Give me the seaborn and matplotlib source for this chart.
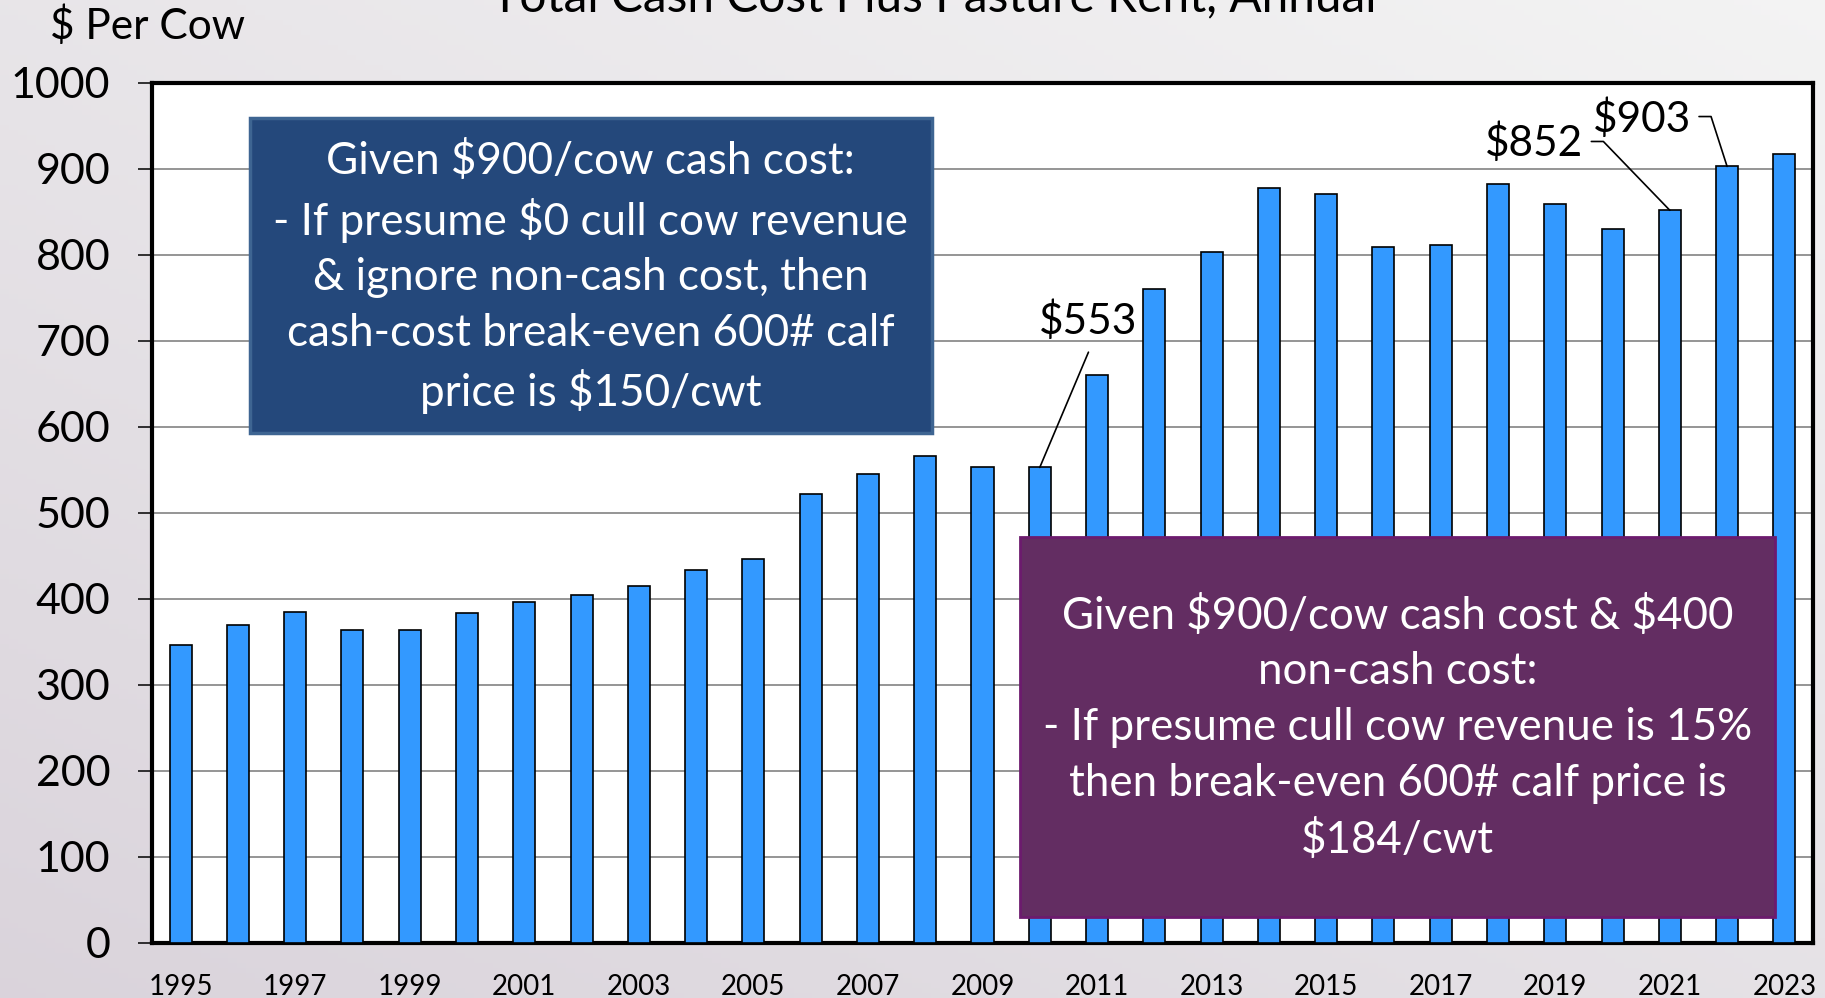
import numpy as np
import pandas as pd
import matplotlib
matplotlib.use("Agg")
import matplotlib.pyplot as plt
from matplotlib.patches import Rectangle
import seaborn as sns

# Annual cash cost plus pasture rent, $ per cow
years = list(range(1995, 2024))
cost = [347, 370, 385, 364, 364, 384, 396, 405, 415, 434, 447, 522, 545, 566, 554,
        553, 661, 761, 804, 878, 871, 809, 812, 882, 859, 830, 852, 903, 918]

title = "Total Cash Cost Plus Pasture Rent, Annual"
ylabel = "$ Per Cow"
blue_note = ("Given $900/cow cash cost:\n- If presume $0 cull cow revenue\n"
             "& ignore non-cash cost, then\ncash-cost break-even 600# calf\n"
             "price is $150/cwt")
purple_note = ("Given $900/cow cash cost & $400\nnon-cash cost:\n"
               "- If presume cull cow revenue is 15%\n"
               "then break-even 600# calf price is\n$184/cwt")

df = pd.DataFrame({"year": years, "cost": cost})

sns.set_theme(style="white")
plt.rcParams["font.family"] = ["Lato", "DejaVu Sans"]
plt.rcParams["text.parse_math"] = False

fig = plt.figure(figsize=(18.25, 9.98), dpi=100)

# soft grey slide background
bg = fig.add_axes([0, 0, 1, 1], zorder=-1)
gx, gy = np.meshgrid(np.linspace(0, 1, 200), np.linspace(0, 1, 200))
t = np.clip(0.55 * gy + 0.45 * gx, 0, 1)
top = np.array([0.955, 0.955, 0.955])
bot = np.array([0.855, 0.83, 0.86])
grad = bot[None, None, :] * (1 - t[..., None]) + top[None, None, :] * t[..., None]
bg.imshow(grad, aspect="auto", extent=[0, 1, 0, 1], origin="lower")
bg.axis("off")

ax = fig.add_axes([152 / 1825, 55 / 998, 1661 / 1825, 860 / 998], zorder=1)
ax.set_facecolor("white")

sns.barplot(data=df, x="year", y="cost", color="#3399ff", saturation=1,
            width=0.385, edgecolor="black", linewidth=1.2, ax=ax, zorder=3)

ax.set_xlim(-0.5, len(years) - 0.5)
ax.set_ylim(0, 1000)
ax.set_yticks(range(0, 1001, 100))
ax.yaxis.grid(True, color="#8c8c8c", linewidth=1.3)
ax.set_axisbelow(True)

ax.set_xticks(range(0, len(years), 2))
ax.set_xticklabels([str(y) for y in years[::2]])
ax.set_xticks(np.arange(-0.5, len(years), 1), minor=True)
ax.tick_params(axis="x", which="major", length=0, pad=22, labelsize=20, colors="black")
ax.tick_params(axis="x", which="minor", length=7, width=1.1, direction="out", color="black")
ax.tick_params(axis="y", length=10, width=1.1, direction="out", pad=20, labelsize=31,
               colors="black", left=True)
ax.set_xlabel("")
ax.set_ylabel("")
for s in ax.spines.values():
    s.set_visible(True)
    s.set_color("black")
    s.set_linewidth(3)

# data labels with leader lines
pos = {y: i for i, y in enumerate(years)}
val = dict(zip(years, cost))

i = pos[2010]
ax.text(i + 0.85, val[2010] + 170, f"${val[2010]}", ha="center", va="center",
        fontsize=30.5, color="black", zorder=7)
ax.plot([i + 0.85, i], [val[2010] + 134, val[2010]], color="black", lw=1.2, zorder=7)

for yr, dx, dy in [(2021, -2.37, 78), (2022, -1.49, 56)]:
    i = pos[yr]
    tx, ty = i + dx, val[yr] + dy
    ax.text(tx, ty, f"${val[yr]}", ha="center", va="center", fontsize=30.5,
            color="black", zorder=7)
    ax.plot([tx + 1.0, tx + 1.21, i], [ty + 2, ty + 2, val[yr]], color="black",
            lw=1.2, zorder=7)

# note boxes
ax.add_patch(Rectangle((1.21, 593), 11.9, 366, facecolor="#24487b", edgecolor="#3e6592",
                       lw=2.5, zorder=5))
ax.text(7.16, 774, blue_note, ha="center", va="center", color="white", fontsize=31.7,
        linespacing=1.43, zorder=6)

ax.add_patch(Rectangle((14.66, 30), 13.18, 442, facecolor="#632d62", edgecolor="#6c1b6e",
                       lw=2, zorder=5))
ax.text(21.25, 250, purple_note, ha="center", va="center", color="white", fontsize=31.6,
        linespacing=1.45, zorder=6)

fig.text(50 / 1825, 1 - 26 / 998, ylabel, ha="left", va="center", fontsize=30.5, color="black")
fig.text(934 / 1825, 1 - 11 / 998, title, ha="center", va="baseline", fontsize=34.5, color="black")

fig.savefig("out.png", dpi=100)
